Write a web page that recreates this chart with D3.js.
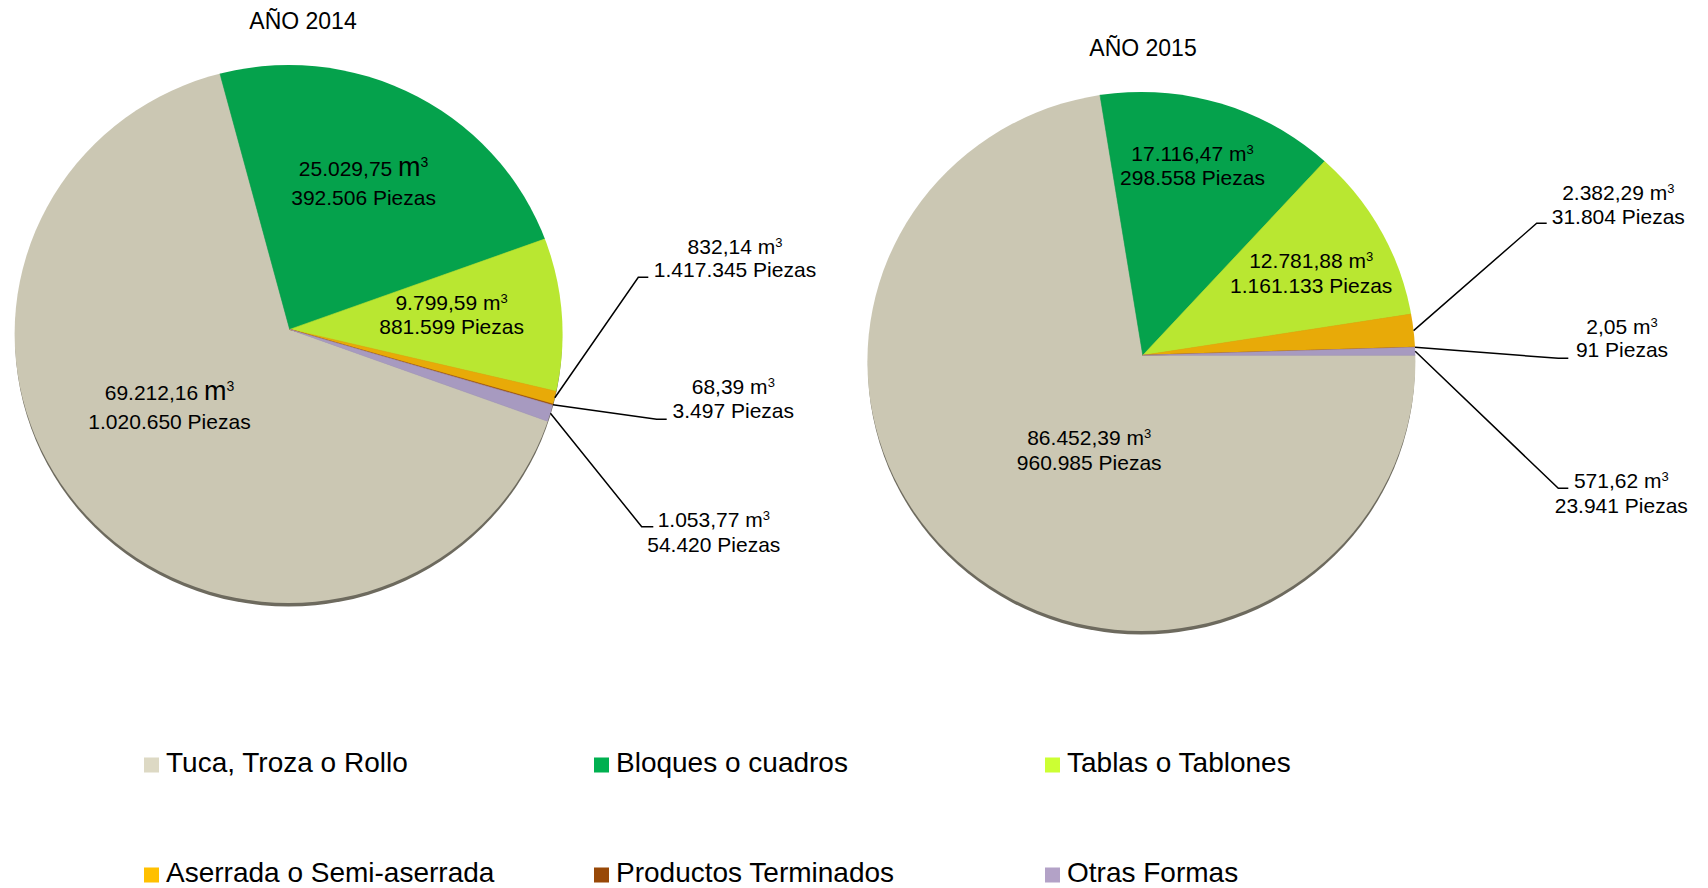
<!DOCTYPE html>
<html>
<head>
<meta charset="utf-8">
<script src="https://cdn.jsdelivr.net/npm/d3@7"></script>
<style>
  html, body { margin: 0; padding: 0; background: #ffffff; }
  svg { display: block; }
  text { font-family: "Liberation Sans", Arial, sans-serif; fill: #000; }
</style>
</head>
<body>
<svg id="chart" width="1708" height="888"></svg>
<script>
// ---------------- data ----------------
const categories = ["Tuca, Troza o Rollo", "Bloques o cuadros", "Tablas o Tablones",
                    "Aserrada o Semi-aserrada", "Productos Terminados", "Otras Formas"];
const years = ["AÑO 2014", "AÑO 2015"];
const volume2014 = [69212.16, 25029.75, 9799.59, 832.14, 68.39, 1053.77];
const pieces2014 = [1020650, 392506, 881599, 1417345, 3497, 54420];
const volume2015 = [86452.39, 17116.47, 12781.88, 2382.29, 2.05, 571.62];
const pieces2015 = [960985, 298558, 1161133, 31804, 91, 23941];

// ---------------- styles ----------------
const sliceColors  = ["#cbc7b3", "#05a24c", "#b9e731", "#e8aa08", "#9b4b0b", "#a79ac0"];
const legendColors = ["#ddd9c4", "#00b050", "#ccff33", "#ffc000", "#984807", "#b3a2c7"];

// ---------------- layout ----------------
// apex = point where slices meet; ellipse = visible top face (slight perspective)
const pies = [
  { title: years[0], vol: volume2014, pcs: pieces2014,
    ax: 289.7, ay: 329.4, ex: 288.6, ey: 334, rx: 274, ry: 269, k: 0.978,
    start: 110, titleX: 303, titleY: 28.5,
    labels: [
      { x: 169.5, y: 400.2, lh: 28.8, bigM: true },
      { x: 363.6, y: 176.0, lh: 28.8, bigM: true },
      { x: 451.6, y: 310.4, lh: 23.7 },
      { x: 735.0, y: 254.0, lh: 23.3, leader: [638.3, 277.3, 648.3] },
      { x: 733.3, y: 394.0, lh: 24.3, leader: [656.7, 419.3, 666.7] },
      { x: 713.8, y: 527.3, lh: 24.4, leader: [641.7, 526.7, 653.3] }
    ] },
  { title: years[1], vol: volume2015, pcs: pieces2015,
    ax: 1142.8, ay: 355.3, ex: 1141.4, ey: 361.5, rx: 274, ry: 269.5, k: 0.978,
    start: 90, titleX: 1143, titleY: 55.6,
    labels: [
      { x: 1089.2, y: 445.0, lh: 24.6 },
      { x: 1192.5, y: 161.2, lh: 24.1 },
      { x: 1311.2, y: 268.3, lh: 24.5 },
      { x: 1618.3, y: 200.0, lh: 24.0, leader: [1536.7, 223.3, 1546.7] },
      { x: 1622.0, y: 334.0, lh: 23.3, leader: [1558.3, 358.3, 1568.3] },
      { x: 1621.3, y: 488.3, lh: 24.4, leader: [1558.3, 488.3, 1568.3] }
    ] }
];

const esLocale = d3.formatLocale({ decimal: ",", thousands: ".", grouping: [3], currency: ["", ""] });
const fmtVol = esLocale.format(",.2f");
const fmtPcs = esLocale.format(",d");

const svg = d3.select("#chart");
const defs = svg.append("defs");
const rad = Math.PI / 180;

pies.forEach((p, pi) => {
  const items = categories.map((c, i) => ({ cat: c, i, v: p.vol[i], n: p.pcs[i] }));
  const pie = d3.pie().sort(null).value(d => d.v)
    .startAngle(p.start * rad).endAngle((p.start + 360) * rad);
  const arcs = pie(items);
  const R = p.rx + 40;
  const arc = d3.arc().innerRadius(0).outerRadius(R);
  const dirArc = d3.arc().innerRadius(1).outerRadius(1);

  // title
  svg.append("text").attr("x", p.titleX).attr("y", p.titleY)
    .attr("text-anchor", "middle").attr("font-size", 23).text(p.title);

  // clip to the top-face ellipse
  defs.append("clipPath").attr("id", "clip" + pi)
    .append("ellipse").attr("cx", p.ex).attr("cy", p.ey).attr("rx", p.rx).attr("ry", p.ry);

  // 3D edge under the pie
  svg.append("ellipse").attr("cx", p.ex).attr("cy", p.ey + 3.5)
    .attr("rx", p.rx - 0.5).attr("ry", p.ry).attr("fill", "#6d6a5e");

  const wrap = svg.append("g").attr("clip-path", `url(#clip${pi})`);
  const g = wrap.append("g").attr("transform", `translate(${p.ax},${p.ay}) scale(1,${p.k})`);
  g.selectAll("path").data(arcs).join("path")
    .attr("d", arc)
    .attr("fill", d => sliceColors[d.data.i])
    .attr("stroke", d => sliceColors[d.data.i])
    .attr("stroke-width", 0.6);

  // point where the ray at the slice's mid angle meets the ellipse
  function edgePoint(d) {
    const c = dirArc.centroid(d);
    const dx = c[0], dy = c[1] * p.k;
    const ox = (p.ax - p.ex) / p.rx, oy = (p.ay - p.ey) / p.ry;
    const ux = dx / p.rx, uy = dy / p.ry;
    const A = ux * ux + uy * uy, B = 2 * (ox * ux + oy * uy), C = ox * ox + oy * oy - 1;
    const t = (-B + Math.sqrt(B * B - 4 * A * C)) / (2 * A);
    return [p.ax + t * dx, p.ay + t * dy];
  }

  // labels
  arcs.forEach(d => {
    const L = p.labels[d.data.i];
    const t = svg.append("text").attr("x", L.x).attr("y", L.y)
      .attr("text-anchor", "middle").attr("font-size", 21);
    if (L.bigM) {
      t.append("tspan").text(fmtVol(d.data.v) + " ");
      t.append("tspan").attr("font-size", 27).text("m");
      t.append("tspan").attr("font-size", 14).attr("dy", -9).text("3");
    } else {
      t.append("tspan").text(fmtVol(d.data.v) + " m");
      t.append("tspan").attr("font-size", 13).attr("dy", -7).text("3");
    }
    svg.append("text").attr("x", L.x).attr("y", L.y + L.lh)
      .attr("text-anchor", "middle").attr("font-size", 21)
      .text(fmtPcs(d.data.n) + " Piezas");

    if (L.leader) {
      const s = edgePoint(d);
      const path = d3.path();
      path.moveTo(s[0], s[1]);
      path.lineTo(L.leader[0], L.leader[1]);
      path.lineTo(L.leader[2], L.leader[1]);
      svg.append("path").attr("d", path.toString())
        .attr("fill", "none").attr("stroke", "#000").attr("stroke-width", 1.5);
    }
  });
});

// legend
const legendCols = [144, 594, 1045];
const legendRows = [772, 882];
const lg = svg.append("g");
categories.forEach((c, i) => {
  const x = legendCols[i % 3], y = legendRows[Math.floor(i / 3)];
  lg.append("rect").attr("x", x).attr("y", y - 14.5).attr("width", 15).attr("height", 15)
    .attr("fill", legendColors[i]);
  lg.append("text").attr("x", x + 22).attr("y", y).attr("font-size", 28).text(c);
});
</script>
</body>
</html>
